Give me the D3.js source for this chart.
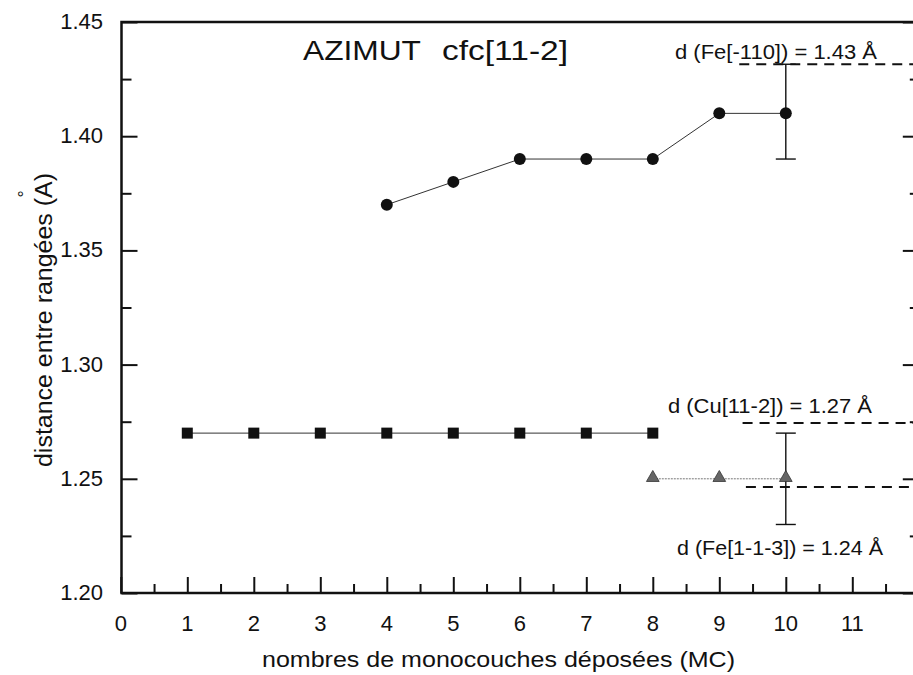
<!DOCTYPE html>
<html>
<head>
<meta charset="utf-8">
<script src="https://cdn.jsdelivr.net/npm/d3@7"></script>
<style>
  body { margin: 0; background: #fff; }
  text { font-family: "Liberation Sans", Arial, sans-serif; fill: #111; }
</style>
</head>
<body>
<div id="chart"></div>
<script>
  var w = 913,
      h = 675;

  // Fe rows (circles)
  var feX = [4, 5, 6, 7, 8, 9, 10];
  var feY = [1.37, 1.38, 1.39, 1.39, 1.39, 1.41, 1.41];
  // Cu rows (squares)
  var cuX = [1, 2, 3, 4, 5, 6, 7, 8];
  var cuY = [1.27, 1.27, 1.27, 1.27, 1.27, 1.27, 1.27, 1.27];
  // second Fe rows (grey triangles)
  var fe2X = [8, 9, 10];
  var fe2Y = [1.25, 1.25, 1.25];

  // error bars: x, low, high
  var errBars = [
      {x: 10, lo: 1.39, hi: 1.4315},
      {x: 10, lo: 1.23, hi: 1.27}
  ];

  // reference dashed lines and their labels
  var refFrom = [9.3, 9.35, 9.4];
  var refY = [1.4315, 1.2744, 1.2464];
  var refLabels = ["d (Fe[-110]) = 1.43 Å", "d (Cu[11-2]) = 1.27 Å", "d (Fe[1-1-3]) = 1.24 Å"];
  var refLabelX = [675, 668, 677];
  var refLabelW = [202, 204, 206];
  var refLabelY = [1.4338, 1.2788, 1.2166];

  var xTicks = [0, 1, 2, 3, 4, 5, 6, 7, 8, 9, 10, 11];
  var yTicks = [1.20, 1.25, 1.30, 1.35, 1.40, 1.45];

  var svg = d3.select("#chart").append("svg")
      .attr("width", w)
      .attr("height", h);

  var x = d3.scaleLinear().domain([0, 12]).range([120.8, 918.8]);
  var y = d3.scaleLinear().domain([1.20, 1.45]).range([593, 22]);

  // frame
  svg.append("rect")
      .attr("x", x(0) + 0.7).attr("y", y(1.45))
      .attr("width", x(12) - x(0)).attr("height", y(1.20) - y(1.45))
      .attr("fill", "none").attr("stroke", "#111").attr("stroke-width", 2.5);

  // bottom axis, ticks inside
  var xMinor = d3.range(0.5, 12, 1);
  svg.append("g").attr("transform", "translate(0," + y(1.20) + ")")
      .call(d3.axisBottom(x).tickValues(xTicks).tickSize(-16).tickFormat(""))
      .call(function(g){ g.select(".domain").remove(); })
      .selectAll("line").attr("stroke", "#111").attr("stroke-width", 2);
  svg.append("g").attr("transform", "translate(0," + y(1.20) + ")")
      .call(d3.axisBottom(x).tickValues(xMinor).tickSize(-9).tickFormat(""))
      .call(function(g){ g.select(".domain").remove(); })
      .selectAll("line").attr("stroke", "#111").attr("stroke-width", 2);

  svg.selectAll(".xlab").data(xTicks).enter().append("text")
      .attr("class", "xlab")
      .attr("x", function(d){ return x(d); })
      .attr("y", 631)
      .attr("text-anchor", "middle")
      .style("font-size", "22px")
      .text(function(d){ return d; });

  // left axis
  var yMinor = [1.225, 1.275, 1.325, 1.375, 1.425];
  svg.append("g").attr("transform", "translate(" + (x(0) + 0.7) + ",0)")
      .call(d3.axisLeft(y).tickValues(yTicks).tickSize(-16).tickFormat(""))
      .call(function(g){ g.select(".domain").remove(); })
      .selectAll("line").attr("stroke", "#111").attr("stroke-width", 2);
  svg.append("g").attr("transform", "translate(" + (x(0) + 0.7) + ",0)")
      .call(d3.axisLeft(y).tickValues(yMinor).tickSize(-10).tickFormat(""))
      .call(function(g){ g.select(".domain").remove(); })
      .selectAll("line").attr("stroke", "#111").attr("stroke-width", 2);

  // right axis ticks (inward)
  svg.append("g").attr("transform", "translate(" + x(12) + ",0)")
      .call(d3.axisRight(y).tickValues(yTicks).tickSize(-16).tickFormat(""))
      .call(function(g){ g.select(".domain").remove(); })
      .selectAll("line").attr("stroke", "#111").attr("stroke-width", 2);
  svg.append("g").attr("transform", "translate(" + x(12) + ",0)")
      .call(d3.axisRight(y).tickValues(yMinor).tickSize(-9).tickFormat(""))
      .call(function(g){ g.select(".domain").remove(); })
      .selectAll("line").attr("stroke", "#111").attr("stroke-width", 2);

  svg.selectAll(".ylab").data(yTicks).enter().append("text")
      .attr("class", "ylab")
      .attr("x", 103)
      .attr("y", function(d){ return y(d) + 7; })
      .attr("text-anchor", "end")
      .style("font-size", "22px")
      .text(function(d){ return d.toFixed(2); });

  // axis titles
  svg.append("text")
      .attr("x", 262).attr("y", 667)
      .attr("textLength", 473).attr("lengthAdjust", "spacingAndGlyphs")
      .style("font-size", "22px")
      .text("nombres de monocouches déposées (MC)");

  svg.append("text")
      .attr("transform", "translate(52,467) rotate(-90)")
      .attr("textLength", 294).attr("lengthAdjust", "spacingAndGlyphs")
      .style("font-size", "23px")
      .text("distance entre rangées (A)");
  svg.append("text")
      .attr("transform", "translate(31,194) rotate(-90)")
      .attr("text-anchor", "middle")
      .style("font-size", "18px")
      .text("°");

  // title
  svg.append("text")
      .attr("x", 303).attr("y", 60)
      .attr("textLength", 118).attr("lengthAdjust", "spacingAndGlyphs")
      .style("font-size", "27px")
      .text("AZIMUT");
  svg.append("text")
      .attr("x", 442).attr("y", 60)
      .attr("textLength", 126).attr("lengthAdjust", "spacingAndGlyphs")
      .style("font-size", "27px")
      .text("cfc[11-2]");

  // reference lines
  refY.forEach(function(v, i){
    svg.append("line")
        .attr("x1", x(refFrom[i])).attr("x2", x(12))
        .attr("y1", y(v)).attr("y2", y(v))
        .attr("stroke", "#111").attr("stroke-width", 2)
        .attr("stroke-dasharray", "10,7");
    svg.append("text")
        .attr("x", refLabelX[i]).attr("y", y(refLabelY[i]))
        .attr("textLength", refLabelW[i]).attr("lengthAdjust", "spacingAndGlyphs")
        .style("font-size", "21px")
        .text(refLabels[i]);
  });

  // error bars
  errBars.forEach(function(e){
    var g = svg.append("g").attr("stroke", "#111").attr("stroke-width", 1.4);
    g.append("line").attr("x1", x(e.x)).attr("x2", x(e.x)).attr("y1", y(e.lo)).attr("y2", y(e.hi));
    g.append("line").attr("x1", x(e.x) - 10).attr("x2", x(e.x) + 10).attr("y1", y(e.lo)).attr("y2", y(e.lo));
    g.append("line").attr("x1", x(e.x) - 10).attr("x2", x(e.x) + 10).attr("y1", y(e.hi)).attr("y2", y(e.hi));
  });

  var line = d3.line().x(function(d){ return x(d[0]); }).y(function(d){ return y(d[1]); });

  // series lines
  svg.append("path").datum(d3.zip(feX, feY)).attr("d", line)
      .attr("fill", "none").attr("stroke", "#333").attr("stroke-width", 1);
  svg.append("path").datum(d3.zip(cuX, cuY)).attr("d", line)
      .attr("fill", "none").attr("stroke", "#333").attr("stroke-width", 1);
  svg.append("path").datum(d3.zip(fe2X, fe2Y)).attr("d", line)
      .attr("fill", "none").attr("stroke", "#777").attr("stroke-width", 1)
      .attr("stroke-dasharray", "2,1");

  // markers
  svg.selectAll(".fe").data(d3.zip(feX, feY)).enter().append("circle")
      .attr("cx", function(d){ return x(d[0]); })
      .attr("cy", function(d){ return y(d[1]); })
      .attr("r", 6)
      .attr("fill", "#111");

  svg.selectAll(".cu").data(d3.zip(cuX, cuY)).enter().append("rect")
      .attr("x", function(d){ return x(d[0]) - 5.5; })
      .attr("y", function(d){ return y(d[1]) - 5.5; })
      .attr("width", 11).attr("height", 11)
      .attr("fill", "#111");

  var tri = d3.symbol().type(d3.symbolTriangle).size(70);
  svg.selectAll(".fe2").data(d3.zip(fe2X, fe2Y)).enter().append("path")
      .attr("d", tri)
      .attr("transform", function(d){ return "translate(" + x(d[0]) + "," + (y(d[1]) - 1) + ")"; })
      .attr("fill", "#666").attr("stroke", "#333").attr("stroke-width", 0.8);
</script>
</body>
</html>
